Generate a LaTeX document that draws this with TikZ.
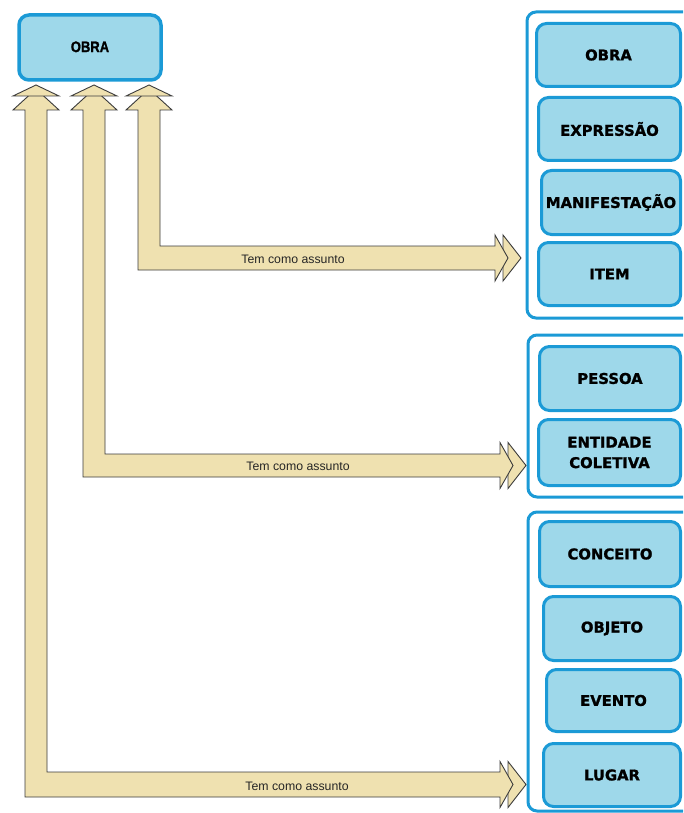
\documentclass[tikz,border=0pt]{standalone}
\usepackage{fontspec}
\usepackage{graphicx}
\newfontfamily\boxf{DejaVu Sans}[BoldFeatures={FakeBold=1.3}]
\newfontfamily\topf{Liberation Sans}[BoldFeatures={FakeBold=1.2}]
\newfontfamily\lblf{Liberation Sans}
\definecolor{lblue}{RGB}{158,216,234}
\definecolor{bblue}{RGB}{27,154,214}
\definecolor{beige}{RGB}{239,225,176}
\definecolor{aline}{RGB}{60,60,60}
\tikzset{
  entbox/.style={rectangle, rounded corners=10pt, draw=bblue, line width=3pt, fill=lblue,
    inner sep=0pt, align=center, font=\boxf\bfseries\fontsize{14.8}{20.5}\selectfont},
  frame/.style={rectangle, rounded corners=9pt, draw=bblue, line width=3pt, fill=white},
  arrowbody/.style={draw=aline, line width=0.9pt, fill=beige, line join=miter},
  lbl/.style={font=\lblf\fontsize{12.3}{14}\selectfont, text=black!85, inner sep=0pt}
}
\newcommand\tcarrow[8]{% #1 l, #2 r, #3 t, #4 b, #5 a, #6 label x, #7 name, #8 label y
  \pgfmathsetmacro\cc{(#1+#2)/2}
  \pgfmathsetmacro\yc{(#3+#4)/2}
  \coordinate (#7tail) at (#5,\yc);
  \draw[arrowbody] (#5+8,\yc-23) -- (#5+26,\yc) -- (#5+8,\yc+23) -- cycle;
  \draw[arrowbody] (#1,#4) -- (#1,110) -- (\cc-23,110) -- (\cc,89) -- (\cc+23,110)
    -- (#2,110) -- (#2,#3) -- (#5,#3) -- (#5,\yc-23) -- (#5+13,\yc) -- (#5,\yc+23)
    -- (#5,#4) -- cycle;
  \draw[arrowbody] (\cc-23,96) -- (\cc,85) -- (\cc+23,96) -- cycle;
  \node[lbl] (#7lbl) at (#6,#8) {Tem como assunto};
}
\begin{document}
\begin{tikzpicture}[x=1pt,y=-1pt]
\useasboundingbox (0,0) rectangle (683,813);
\clip (0,0) rectangle (683,813);
\fill[white] (0,0) rectangle (683,813);

% containers
\draw[frame] (527,12) rectangle (705,318);
\draw[frame] (528,335) rectangle (705,497);
\draw[frame] (528,512) rectangle (705,811);

% main OBRA
\node[entbox, line width=3.5pt, minimum width=142pt, minimum height=65pt,
  font=\topf\bfseries\fontsize{13}{15}\selectfont] (obra) at (90,47.5) {\raisebox{1.5pt}{\scalebox{1}[1.18]{OBRA}}};

% group 1
\node[entbox, minimum width=144pt, minimum height=63pt] (g1obra) at (608.5,55) {OBRA};
\node[entbox, minimum width=142pt, minimum height=63pt] (g1expr) at (609.5,129) {EXPRESSÃO};
\node[entbox, minimum width=139pt, minimum height=64pt] (g1man) at (611,202.5) {MANIFESTAÇÃO};
\node[entbox, minimum width=142pt, minimum height=63pt] (g1item) at (609.5,274) {ITEM};

% group 2
\node[entbox, minimum width=141pt, minimum height=64pt] (g2pes) at (610,378.5) {PESSOA};
\node[entbox, minimum width=142pt, minimum height=66pt] (g2ent) at (609.5,452.5) {ENTIDADE\\COLETIVA};

% group 3
\node[entbox, minimum width=141pt, minimum height=65pt] (g3con) at (610,554) {CONCEITO};
\node[entbox, minimum width=137pt, minimum height=64pt] (g3obj) at (612,628.5) {OBJETO};
\node[entbox, minimum width=134pt, minimum height=62pt] (g3eve) at (613.5,700.5) {EVENTO};
\node[entbox, minimum width=137pt, minimum height=63pt] (g3lug) at (612,775) {LUGAR};

% block arrows
\tcarrow{138}{160}{246}{270}{495}{293}{aa}{259}
\tcarrow{83}{105}{454}{477}{500}{298}{ab}{466}
\tcarrow{25}{47}{772}{797}{500}{297}{ac}{786}
\end{tikzpicture}
\end{document}
